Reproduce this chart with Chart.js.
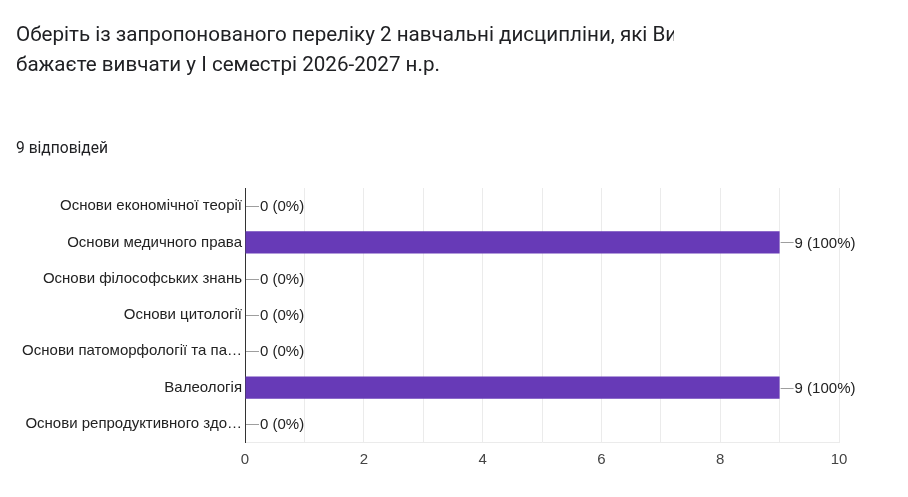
<!DOCTYPE html>
<html>
<head>
<meta charset="utf-8">
<script src="https://cdn.jsdelivr.net/npm/chart.js@4.4.1/dist/chart.umd.min.js"></script>
<style>
  html, body { margin: 0; padding: 0; background: #fff; }
  #wrap { position: relative; width: 908px; height: 497px; overflow: hidden; }
  .t { position: absolute; left: 16px; width: 658px; overflow: hidden; white-space: nowrap;
       font-family: Roboto, "Noto Sans", sans-serif; font-size: 20.6px; color: #202124; line-height: 26px; }
  #sub { position: absolute; left: 16px; top: 138px; font-family: Roboto, sans-serif; font-size: 15.6px; color: #202124; line-height: 20px; }
  canvas { position: absolute; left: 0; top: 0; }
</style>
</head>
<body>
<div id="wrap">
  <canvas id="c" width="908" height="497"></canvas>
  <div class="t" style="top:21px">Оберіть із запропонованого переліку 2 навчальні дисципліни, які Ви</div>
  <div class="t" style="top:51px">бажаєте вивчати у І семестрі 2026-2027 н.р.</div>
  <div id="sub">9 відповідей</div>
</div>
<script>
const categories = [
  "Основи економічної теорії",
  "Основи медичного права",
  "Основи філософських знань",
  "Основи цитології",
  "Основи патоморфології та па…",
  "Валеологія",
  "Основи репродуктивного здо…"
];
const counts = [0, 9, 0, 0, 0, 9, 0];
const totalResponses = 9;
const xTicks = [0, 2, 4, 6, 8, 10];

const labelPlugin = {
  id: 'barLabels',
  afterDatasetsDraw(chart) {
    const ctx = chart.ctx;
    const meta = chart.getDatasetMeta(0);
    ctx.save();
    ctx.font = '15px "Liberation Sans", Arial, sans-serif';
    ctx.textBaseline = 'middle';
    meta.data.forEach((bar, i) => {
      const v = counts[i];
      const x = bar.x, y = bar.y;
      ctx.strokeStyle = '#9e9e9e';
      ctx.lineWidth = 1;
      ctx.beginPath();
      ctx.moveTo(x + 1, Math.round(y) + 0.5);
      ctx.lineTo(x + 14, Math.round(y) + 0.5);
      ctx.stroke();
      ctx.fillStyle = '#222';
      const pct = Math.round(v / totalResponses * 100);
      ctx.fillText(v + ' (' + pct + '%)', x + 15, y + 1);
    });
    ctx.restore();
  }
};

new Chart(document.getElementById('c'), {
  type: 'bar',
  data: {
    labels: categories,
    datasets: [{
      data: counts,
      backgroundColor: '#673ab7',
      borderWidth: 0,
      categoryPercentage: 1,
      barPercentage: 0.61
    }]
  },
  options: {
    indexAxis: 'y',
    responsive: false,
    animation: false,
    layout: { padding: { top: 188, right: 69, bottom: 19, left: 0 } },
    plugins: { legend: { display: false }, tooltip: { enabled: false } },
    scales: {
      x: {
        min: 0, max: 10,
        ticks: {
          stepSize: 1,
          autoSkip: false,
          maxRotation: 0,
          padding: 9,
          color: '#444',
          font: { family: '"Liberation Sans", Arial, sans-serif', size: 15 },
          callback: (v) => xTicks.includes(v) ? String(v) : ''
        },
        grid: { color: '#ebebeb', drawTicks: false },
        border: { display: true, color: '#ebebeb' }
      },
      y: {
        afterFit(scale) { scale.width = 245; },
        ticks: {
          padding: 3,
          color: '#222',
          font: { family: '"Liberation Sans", Arial, sans-serif', size: 15 }
        },
        grid: { display: false, drawTicks: false },
        border: { display: true, color: '#333', width: 1 }
      }
    }
  },
  plugins: [labelPlugin]
});
</script>
</body>
</html>
